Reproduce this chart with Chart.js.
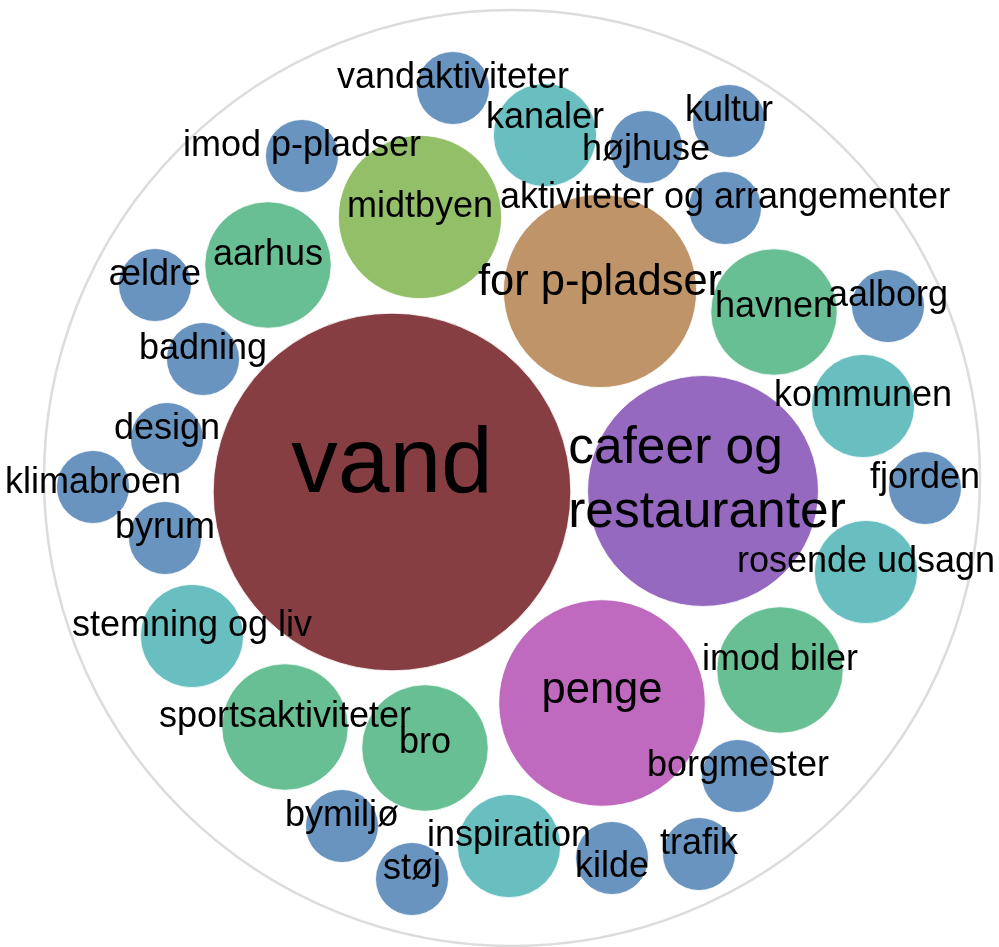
<!DOCTYPE html>
<html>
<head>
<meta charset="utf-8">
<script src="https://cdn.jsdelivr.net/npm/chart.js@4"></script>
<style>
  html, body { margin: 0; padding: 0; background: #fff; }
  #wrap { width: 999px; height: 947px; }
</style>
</head>
<body>
<div id="wrap"><canvas id="bubbles"></canvas></div>
<script>
// words and how often they were mentioned
let WORDS = [
    'vand', 'cafeer og\nrestauranter', 'penge', 'for p-pladser', 'midtbyen',
    'aarhus', 'havnen', 'imod biler', 'sportsaktiviteter', 'bro',
    'kanaler', 'kommunen', 'rosende udsagn', 'stemning og liv', 'inspiration',
    'vandaktiviteter', 'imod p-pladser', 'højhuse', 'kultur', 'aktiviteter og arrangementer',
    'ældre', 'badning', 'design', 'klimabroen', 'byrum',
    'aalborg', 'fjorden', 'borgmester', 'trafik', 'kilde', 'støj', 'bymiljø'
];
let COUNTS = [
    24, 10, 8, 7, 5,
    3, 3, 3, 3, 3,
    2, 2, 2, 2, 2,
    1, 1, 1, 1, 1,
    1, 1, 1, 1, 1,
    1, 1, 1, 1, 1, 1, 1
];
// packed layout, origin at the centre of the outer ring
let POS_X = [
    -120, 191, 90, 88, -92,
    -244, 262, 268, -227, -87,
    33, 351, 354, -320, -3,
    -59, -210, 134, 217, 213,
    -357, -309, -345, -419, -347,
    376, 413, 226, 187, 100, -100, -170
];
let POS_Y = [
    -14, -13, -225, 187, 261,
    213, 166, -192, -249, -270,
    343, 72, -94, -158, -368,
    390, 322, 331, 357, 270,
    193, 119, 39, -9, -60,
    172, -10, -298, -376, -380, -401, -348
];
let RING_RADIUS = 468;

const COLOR_BY_COUNT = {
    1: '#6994bf', 2: '#69bfbf', 3: '#69bf94', 5: '#94bf69',
    7: '#bf9469', 8: '#bf69bf', 10: '#9469bf', 24: '#873e43'
};
const FONT_BY_COUNT = { 7: 43.5, 8: 43.5, 10: 51.5, 24: 93 };
const UNIT_RADIUS = 36.5;
// a few labels were pushed down/up to dodge their neighbours
const LABEL_SHIFT = { 'kilde': 19, 'højhuse': 13, 'kanaler': -7, 'bro': 5, 'havnen': 5, 'klimabroen': 6, 'for p-pladser': 4 };

function bubbleRadius(count) {
    return UNIT_RADIUS * Math.sqrt(count);
}

const ringPlugin = {
    id: 'ring',
    beforeDatasetsDraw(chart) {
        const { ctx, scales } = chart;
        const cx = scales.x.getPixelForValue(0);
        const cy = scales.y.getPixelForValue(0);
        const r = scales.x.getPixelForValue(RING_RADIUS) - cx;
        ctx.save();
        ctx.beginPath();
        ctx.arc(cx, cy, r, 0, Math.PI * 2);
        ctx.strokeStyle = '#dcdcdc';
        ctx.lineWidth = 2.5;
        ctx.stroke();
        ctx.restore();
    }
};

const labelPlugin = {
    id: 'wordLabels',
    afterDatasetsDraw(chart) {
        const { ctx } = chart;
        const meta = chart.getDatasetMeta(0);
        ctx.save();
        ctx.fillStyle = '#000';
        ctx.textBaseline = 'alphabetic';
        meta.data.forEach((el, i) => {
            const size = FONT_BY_COUNT[COUNTS[i]] || 36;
            ctx.font = size + 'px "Liberation Sans", Arial, sans-serif';
            const lines = WORDS[i].split('\n');
            const shift = LABEL_SHIFT[WORDS[i]] || 0;
            if (lines.length === 1) {
                ctx.textAlign = 'center';
                ctx.fillText(lines[0], el.x, el.y + shift);
                return;
            }
            // multi-line: block centred, lines left aligned
            const lh = size * 1.26;
            const w = Math.max(...lines.map(l => ctx.measureText(l).width));
            ctx.textAlign = 'left';
            lines.forEach((line, j) => {
                const y = el.y + (j - (lines.length - 1) / 2) * lh + 4;
                ctx.fillText(line, el.x - w / 2 + 4, y);
            });
        });
        ctx.restore();
    }
};

let chartInstance = null;

function renderChart() {
    if (chartInstance) {
        chartInstance.destroy();
    }
    const ctx = document.getElementById('bubbles');

    chartInstance = new Chart(ctx, {
        type: 'bubble',
        data: {
            datasets: [{
                label: 'ord',
                data: WORDS.map((w, i) => ({ x: POS_X[i], y: POS_Y[i], r: bubbleRadius(COUNTS[i]) })),
                backgroundColor: COUNTS.map(c => COLOR_BY_COUNT[c]),
                borderColor: 'rgba(255, 255, 255, 0.8)',
                borderWidth: 1,
                clip: false
            }]
        },
        options: {
            responsive: true,
            maintainAspectRatio: false,
            animation: false,
            events: [],
            layout: { padding: 0, autoPadding: false },
            plugins: {
                legend: { display: false },
                tooltip: { enabled: false }
            },
            scales: {
                x: { display: false, min: -512, max: 487 },
                y: { display: false, min: -469, max: 478 }
            }
        },
        plugins: [ringPlugin, labelPlugin]
    });
}

renderChart();
</script>
</body>
</html>
